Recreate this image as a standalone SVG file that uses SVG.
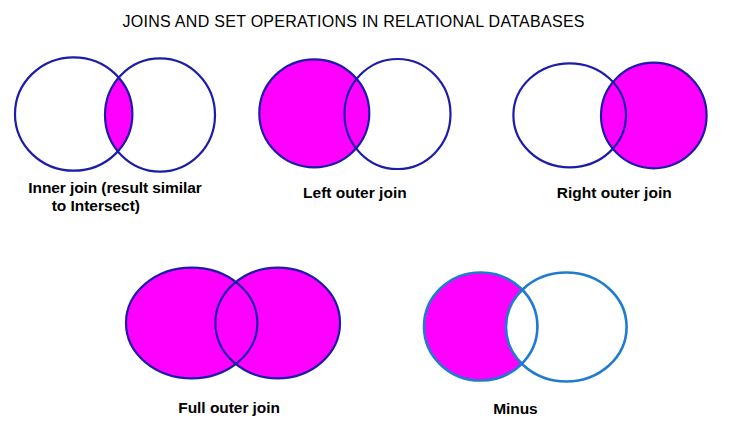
<svg xmlns="http://www.w3.org/2000/svg" width="737" height="432" viewBox="0 0 737 432">
<style>
.o{fill:none;stroke:#1c1ca8;stroke-width:2.2}
.f{fill:#ff00ff;stroke:none}
.m{fill:none;stroke:#1f7bd2;stroke-width:2.6}
.t{font-family:"Liberation Sans",Arial,sans-serif;font-size:15.5px;font-weight:bold;fill:#000}
.title{font-family:"Liberation Sans",Arial,sans-serif;font-size:16px;fill:#000}
</style>
<defs>
<clipPath id="cInner"><ellipse cx="73.7" cy="114" rx="58.7" ry="56.7"/></clipPath>
</defs>
<rect width="737" height="432" fill="#fff"/>
<text class="title" x="122.5" y="26.5" textLength="462" lengthAdjust="spacing">JOINS AND SET OPERATIONS IN RELATIONAL DATABASES</text>

<g id="inner-join">
<ellipse class="f" cx="160" cy="115" rx="55" ry="56.7" clip-path="url(#cInner)"/>
<ellipse class="o" cx="73.7" cy="114" rx="58.7" ry="56.7"/>
<ellipse class="o" cx="160" cy="115" rx="55" ry="56.7"/>
<text class="t" x="28.3" y="192.7" textLength="173.4" lengthAdjust="spacing">Inner join (result similar</text>
<text class="t" x="51.7" y="210.5" textLength="88.3" lengthAdjust="spacing">to Intersect)</text>
</g>

<g id="left-outer-join">
<ellipse class="f" cx="314.3" cy="113.3" rx="55" ry="54"/>
<ellipse class="o" cx="314.3" cy="113.3" rx="55" ry="54"/>
<ellipse class="o" cx="397.5" cy="114" rx="53" ry="55"/>
<text class="t" x="303" y="198.3" textLength="103.7" lengthAdjust="spacing">Left outer join</text>
</g>

<g id="right-outer-join">
<ellipse class="f" cx="653.8" cy="115.5" rx="52.8" ry="52.8"/>
<ellipse class="o" cx="653.8" cy="115.5" rx="52.8" ry="52.8"/>
<ellipse class="o" cx="569.7" cy="115.3" rx="56.3" ry="52"/>
<text class="t" x="556.7" y="198.3" textLength="115" lengthAdjust="spacing">Right outer join</text>
</g>

<g id="full-outer-join">
<ellipse class="f" cx="191.7" cy="323" rx="65.7" ry="55.3"/>
<ellipse class="f" cx="277.7" cy="323" rx="62.3" ry="55.3"/>
<ellipse class="o" cx="191.7" cy="323" rx="65.7" ry="55.3"/>
<ellipse class="o" cx="277.7" cy="323" rx="62.3" ry="55.3"/>
<text class="t" x="178.3" y="413.3" textLength="101.7" lengthAdjust="spacing">Full outer join</text>
</g>

<g id="minus">
<ellipse class="f" cx="480.7" cy="326.5" rx="56.7" ry="54"/>
<ellipse fill="#fff" stroke="none" cx="566.3" cy="327" rx="60.3" ry="54.5"/>
<ellipse class="m" cx="480.7" cy="326.5" rx="56.7" ry="54"/>
<ellipse class="m" cx="566.3" cy="327" rx="60.3" ry="54.5"/>
<text class="t" x="493.3" y="414" textLength="44.4" lengthAdjust="spacing">Minus</text>
</g>
</svg>
